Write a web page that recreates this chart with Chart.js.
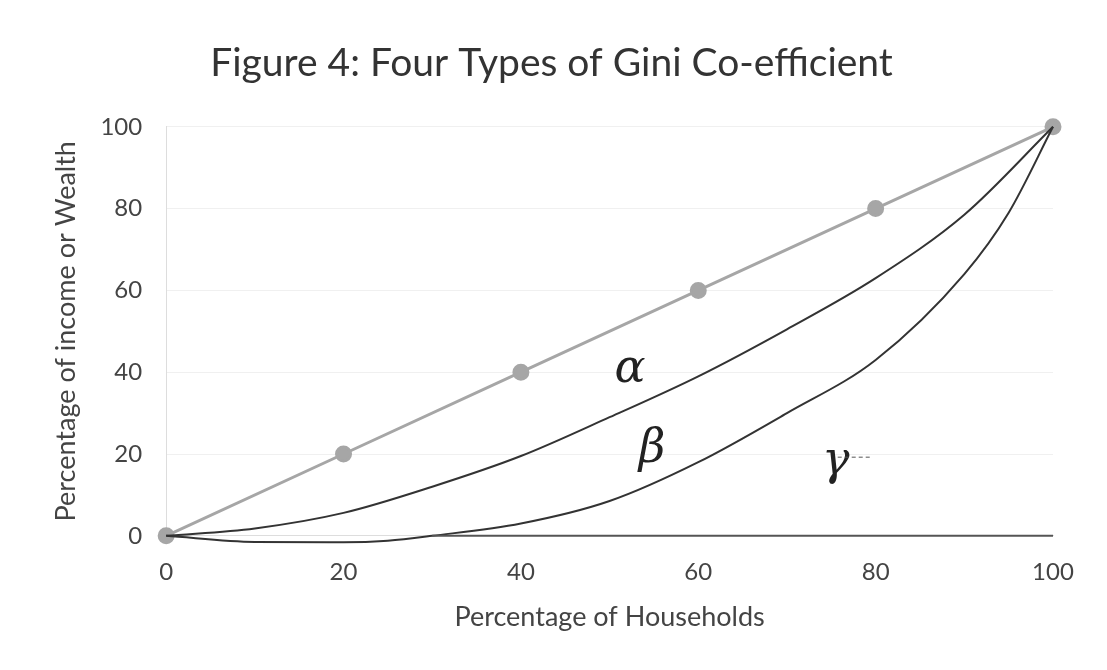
<!DOCTYPE html>
<html>
<head>
<meta charset="utf-8">
<script src="https://cdn.jsdelivr.net/npm/chart.js@4"></script>
<style>
  html, body { margin: 0; padding: 0; background: #fff; }
  #wrap { width: 1107px; height: 670px; }
</style>
</head>
<body>
<div id="wrap"><canvas id="gini" width="1107" height="670"></canvas></div>
<script>
"use strict";

// Line of equality (grey with markers)
const equalX = [0, 20, 40, 60, 80, 100];
const equalY = [0, 20, 40, 60, 80, 100];

// Middle Lorenz curve
const betaX = [0, 10, 20, 30, 40, 50, 60, 70, 80, 90, 100];
const betaY = [0, 1.8, 5.6, 12, 19.5, 29, 39, 50.5, 63, 78.5, 100];

// Lower Lorenz curve (dips a little below zero at the start)
const gammaX = [0, 10, 20, 25, 30, 40, 50, 60, 70, 80, 90, 95, 100];
const gammaY = [0, -1.5, -1.6, -1.2, 0, 3, 8.5, 18, 30, 43, 64, 79, 100];

// Flat line along the bottom
const flatX = [30, 100];
const flatY = [0, 0];

// Handwritten labels, placed in data units
const noteText = ["\u03B1", "\u03B2", "\u03B3"];
const noteX = [52.3, 54.8, 75.5];
const noteY = [40.5, 21, 18];

const toPoints = (xs, ys) => xs.map((x, i) => ({ x: x, y: ys[i] }));

// Draws the greek letters on top of the chart
const notesPlugin = {
    id: "notes",
    afterDatasetsDraw(chart) {
        const { ctx, scales } = chart;
        ctx.save();
        ctx.fillStyle = "#222";
        ctx.font = "italic 46px 'DejaVu Serif'";
        ctx.textAlign = "center";
        ctx.textBaseline = "middle";
        noteText.forEach((t, i) => {
            ctx.fillText(t, scales.x.getPixelForValue(noteX[i]), scales.y.getPixelForValue(noteY[i]));
        });
        // little dashed tail after gamma
        const gx = scales.x.getPixelForValue(noteX[2]);
        const gy = scales.y.getPixelForValue(noteY[2]);
        ctx.strokeStyle = "#555";
        ctx.lineWidth = 1;
        ctx.setLineDash([4, 3]);
        ctx.beginPath();
        ctx.moveTo(gx + 2, gy - 5);
        ctx.lineTo(gx + 36, gy - 5);
        ctx.stroke();
        ctx.restore();
    }
};

const tickFont = { family: "Lato", size: 24 };
const tickColor = "#444";

new Chart(document.getElementById("gini"), {
    type: "scatter",
    data: {
        datasets: [
            {
                data: toPoints(flatX, flatY),
                showLine: true,
                borderColor: "#555",
                borderWidth: 2,
                pointRadius: 0,
                clip: false
            },
            {
                data: toPoints(gammaX, gammaY),
                showLine: true,
                borderColor: "#333",
                borderWidth: 2,
                pointRadius: 0,
                cubicInterpolationMode: "monotone",
                clip: false
            },
            {
                data: toPoints(betaX, betaY),
                showLine: true,
                borderColor: "#333",
                borderWidth: 2,
                pointRadius: 0,
                cubicInterpolationMode: "monotone",
                clip: false
            },
            {
                data: toPoints(equalX, equalY),
                showLine: true,
                borderColor: "#a6a6a6",
                borderWidth: 3,
                pointRadius: 7,
                pointBackgroundColor: "#a6a6a6",
                pointBorderColor: "#a6a6a6",
                clip: false
            }
        ]
    },
    options: {
        responsive: false,
        animation: false,
        layout: { padding: { left: 50, right: 54, top: 40, bottom: 33 } },
        plugins: {
            legend: { display: false },
            tooltip: { enabled: false },
            title: {
                display: true,
                text: "Figure 4: Four Types of Gini Co-efficient",
                color: "#333",
                font: { family: "Lato", size: 39, weight: "normal" },
                padding: { top: 0, bottom: 40 }
            }
        },
        scales: {
            x: {
                type: "linear",
                min: 0,
                max: 100,
                ticks: { stepSize: 20, font: tickFont, color: tickColor, padding: 14 },
                grid: { display: false },
                border: { color: "#ddd" },
                title: {
                    display: true,
                    text: "Percentage of Households",
                    color: tickColor,
                    font: { family: "Lato", size: 27 },
                    padding: { top: 0 }
                }
            },
            y: {
                min: 0,
                max: 100,
                ticks: { stepSize: 20, font: tickFont, color: tickColor, padding: 24 },
                grid: { color: "#f0f0f0", drawTicks: false },
                border: { color: "#ddd" },
                title: {
                    display: true,
                    text: "Percentage of income or Wealth",
                    color: tickColor,
                    font: { family: "Lato", size: 27 },
                    padding: { top: 0, bottom: -6 }
                }
            }
        }
    },
    plugins: [notesPlugin]
});
</script>
</body>
</html>
